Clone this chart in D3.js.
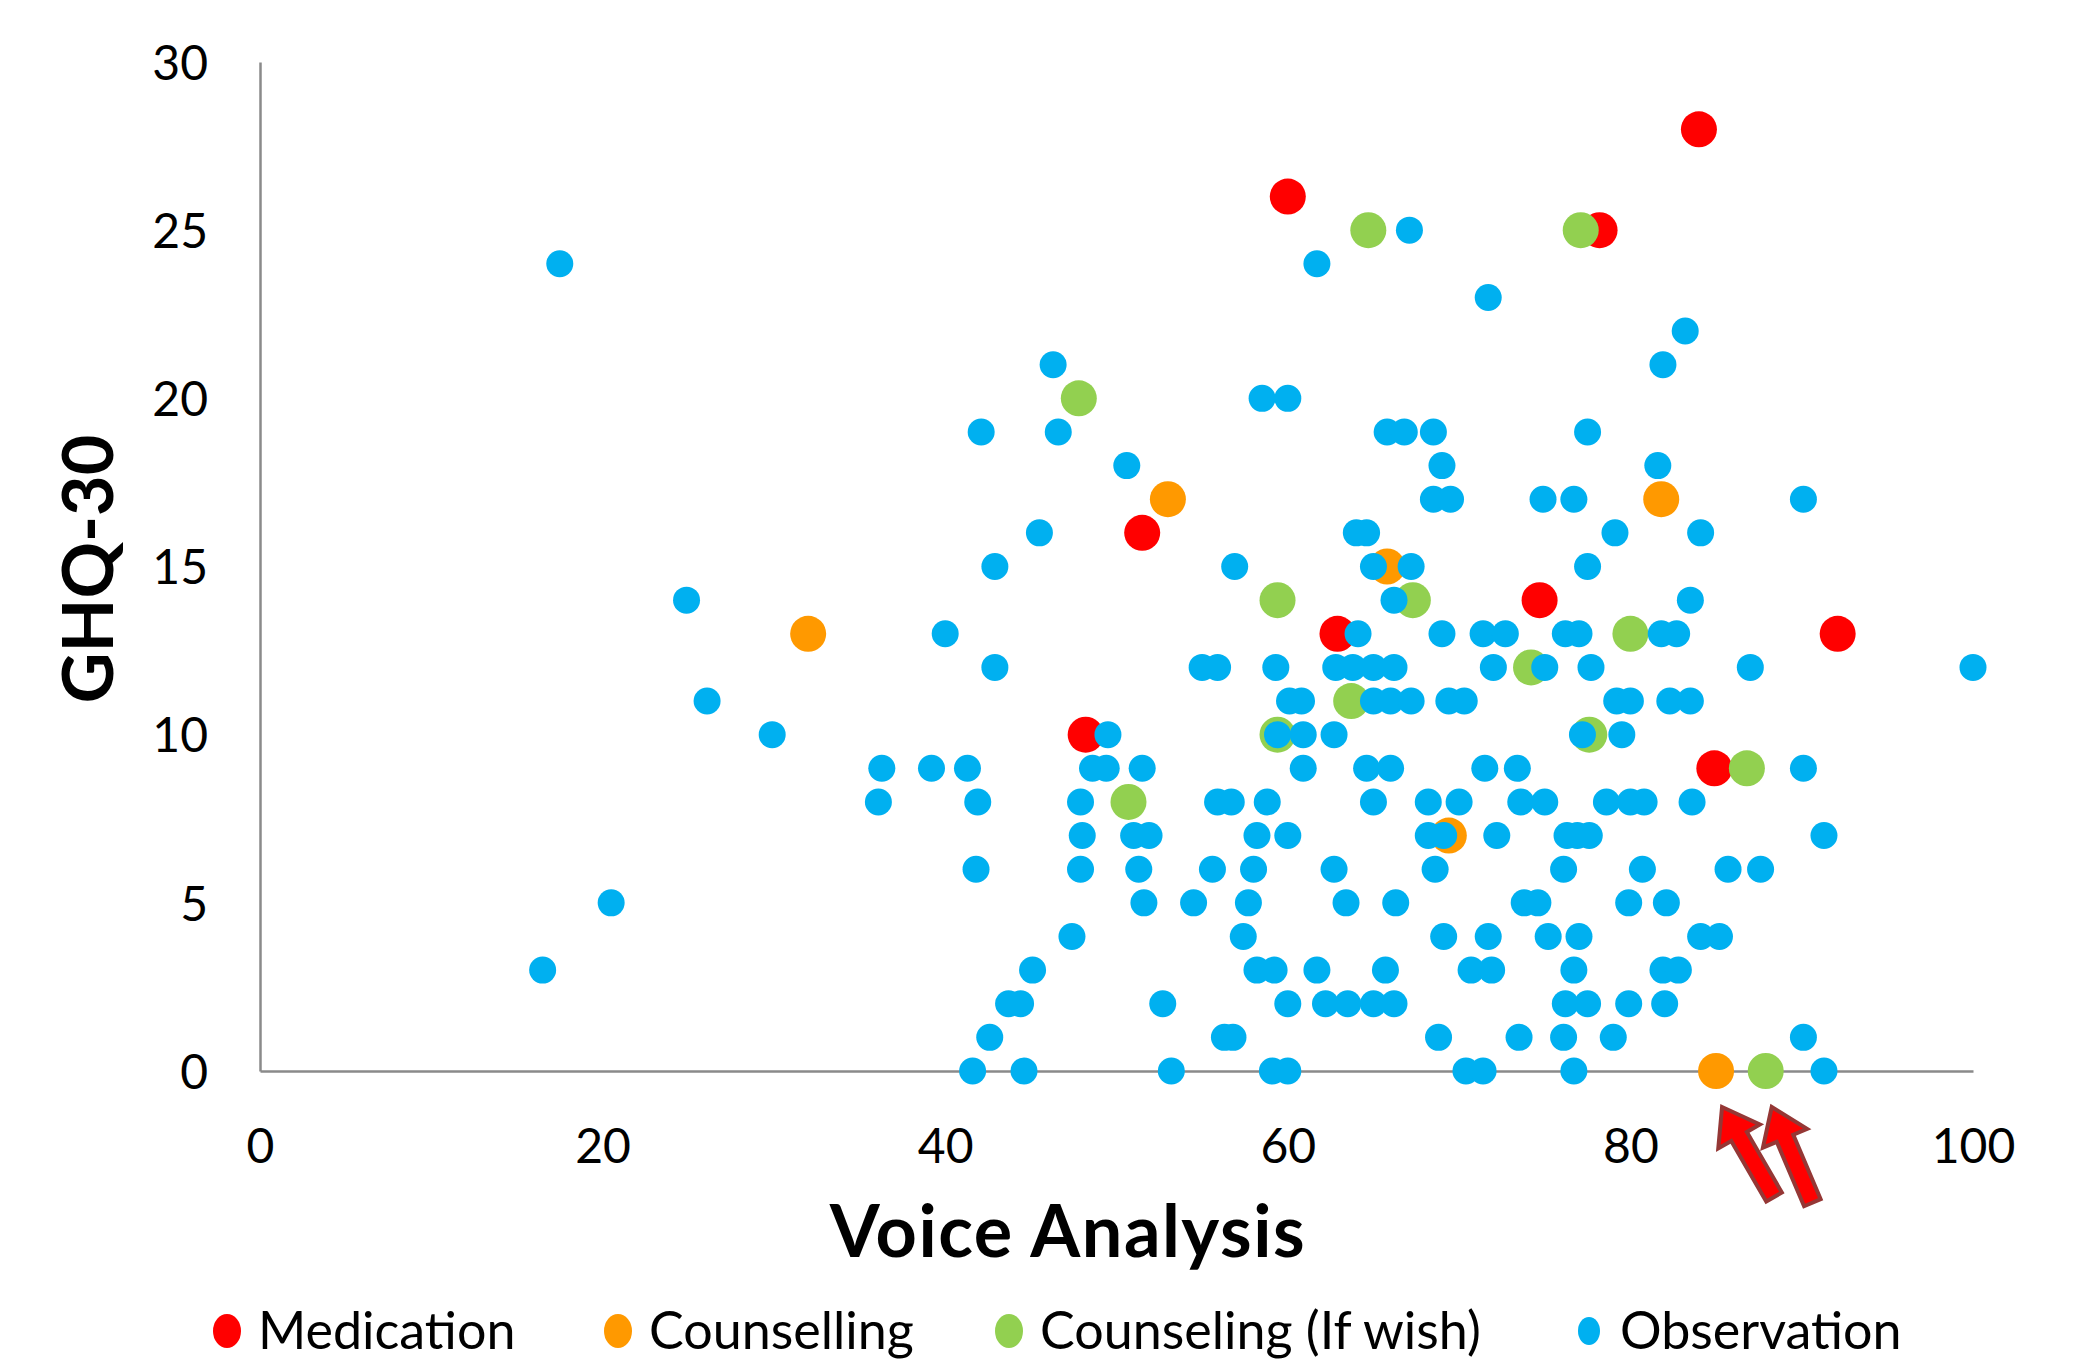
<!DOCTYPE html>
<html>
<head>
<meta charset="utf-8">
<script src="https://cdn.jsdelivr.net/npm/d3@7"></script>
<style>
  body { margin: 0; background: #fff; }
  text { font-family: Lato, "Open Sans", sans-serif; }
</style>
</head>
<body>
<div class="chart"></div>
<script>

// series names, in drawing order
const categories = ["Medication", "Counselling", "Counseling (If wish)", "Observation"];
const colors = ["#FF0000", "#FF9900", "#92D050", "#00B0F0"];

// [voice analysis, GHQ-30]
const medication = [[60.0, 26], [84.0, 28], [78.2, 25], [51.5, 16], [74.7, 14], [62.9, 13], [92.1, 13], [48.2, 10], [84.9, 9]];

const counselling = [[53.0, 17], [81.8, 17], [65.8, 15], [32.0, 13], [69.4, 7], [85.0, 0]];

const counselingIfWish = [[64.7, 25], [77.1, 25], [47.8, 20], [59.4, 14], [67.3, 14], [80.0, 13], [74.2, 12],
    [63.7, 11], [59.4, 10], [77.6, 10], [86.8, 9], [50.7, 8], [87.9, 0]];

const observation = [
    [67.1, 25], [17.5, 24], [61.7, 24], [71.7, 23], [83.2, 22], [46.3, 21], [81.9, 21],
    [58.5, 20], [60.0, 20],
    [42.1, 19], [46.6, 19], [65.8, 19], [66.8, 19], [68.5, 19], [77.5, 19],
    [50.6, 18], [69.0, 18], [81.6, 18],
    [68.5, 17], [69.5, 17], [74.9, 17], [76.7, 17], [90.1, 17],
    [45.5, 16], [64.0, 16], [64.6, 16], [79.1, 16], [84.1, 16],
    [42.9, 15], [56.9, 15], [65.0, 15], [67.2, 15], [77.5, 15],
    [24.9, 14], [66.2, 14], [83.5, 14],
    [40.0, 13], [64.1, 13], [69.0, 13], [71.4, 13], [72.7, 13], [76.2, 13], [77.0, 13], [81.8, 13], [82.7, 13],
    [42.9, 12], [55.0, 12], [55.9, 12], [59.3, 12], [62.8, 12], [63.8, 12], [65.0, 12], [66.2, 12], [72.0, 12],
    [75.0, 12], [77.7, 12], [87.0, 12], [100.0, 12],
    [26.1, 11], [60.1, 11], [60.8, 11], [65.0, 11], [66.0, 11], [67.2, 11], [69.4, 11], [70.3, 11], [79.2, 11],
    [80.0, 11], [82.3, 11], [83.5, 11],
    [29.9, 10], [49.5, 10], [59.4, 10], [60.9, 10], [62.7, 10], [77.2, 10], [79.5, 10],
    [36.3, 9], [39.2, 9], [41.3, 9], [48.6, 9], [49.4, 9], [51.5, 9], [60.9, 9], [64.6, 9], [66.0, 9], [71.5, 9],
    [73.4, 9], [90.1, 9],
    [36.1, 8], [41.9, 8], [47.9, 8], [55.9, 8], [56.7, 8], [58.8, 8], [65.0, 8], [68.2, 8], [70.0, 8], [73.6, 8],
    [75.0, 8], [78.6, 8], [80.0, 8], [80.8, 8], [83.6, 8],
    [48.0, 7], [51.0, 7], [51.9, 7], [58.2, 7], [60.0, 7], [68.2, 7], [69.1, 7], [72.2, 7], [76.3, 7], [76.9, 7],
    [77.6, 7], [91.3, 7],
    [41.8, 6], [47.9, 6], [51.3, 6], [55.6, 6], [58.0, 6], [62.7, 6], [68.6, 6], [76.1, 6], [80.7, 6], [85.7, 6], [87.6, 6],
    [20.5, 5], [51.6, 5], [54.5, 5], [57.7, 5], [63.4, 5], [66.3, 5], [73.8, 5], [74.6, 5], [79.9, 5], [82.1, 5],
    [47.4, 4], [57.4, 4], [69.1, 4], [71.7, 4], [75.2, 4], [77.0, 4], [84.1, 4], [85.2, 4],
    [16.5, 3], [45.1, 3], [58.2, 3], [59.2, 3], [61.7, 3], [65.7, 3], [70.7, 3], [71.9, 3], [76.7, 3], [81.9, 3], [82.8, 3],
    [43.7, 2], [44.4, 2], [52.7, 2], [60.0, 2], [62.2, 2], [63.5, 2], [65.0, 2], [66.2, 2], [76.2, 2], [77.5, 2],
    [79.9, 2], [82.0, 2],
    [42.6, 1], [56.3, 1], [56.8, 1], [68.8, 1], [73.5, 1], [76.1, 1], [79.0, 1], [90.1, 1],
    [41.6, 0], [44.6, 0], [53.2, 0], [59.1, 0], [60.0, 0], [70.4, 0], [71.4, 0], [76.7, 0], [91.3, 0]
];

const xTicks = [0, 20, 40, 60, 80, 100];
const yTicks = [0, 5, 10, 15, 20, 25, 30];

// points the red arrows point at (x values on the baseline)
const arrowTargets = [85.0, 87.9];

const seriesData = [medication, counselling, counselingIfWish, observation];

var svgWidth = 2074;
var svgHeight = 1360;

var svg = d3.select('div.chart')
    .append('svg')
    .attr('width', svgWidth)
    .attr('height', svgHeight);

var x = d3.scaleLinear().domain([0, 100]).range([260, 1973]);
var y = d3.scaleLinear().domain([0, 30]).range([1071, 62]);

// axes (no tick marks, only labels)
var xAxis = svg.append('g')
    .attr('transform', 'translate(0,' + y(0) + ')')
    .call(d3.axisBottom(x).tickValues(xTicks).tickSize(0).tickPadding(92).tickFormat(d3.format('d')));

var yAxis = svg.append('g')
    .attr('transform', 'translate(' + x(0) + ',0)')
    .call(d3.axisLeft(y).tickValues(yTicks).tickSize(0).tickPadding(52).tickFormat(d3.format('d')));

svg.selectAll('.domain')
    .attr('stroke', '#8a8a8a')
    .attr('stroke-width', 2.5);

xAxis.selectAll('text')
    .attr('dy', null)
    .attr('y', 92)
    .style('font-size', '48px')
    .style('font-family', 'Lato')
    .attr('fill', '#000');

yAxis.selectAll('text')
    .attr('dy', '0.36em')
    .style('font-size', '48px')
    .style('font-family', 'Lato')
    .attr('fill', '#000');

// points
var radius = [18, 18, 18, 13.5];

seriesData.forEach(function (series, i) {
    svg.append('g')
        .selectAll('circle')
        .data(series)
        .enter()
        .append('circle')
        .attr('cx', function (d) { return x(d[0]); })
        .attr('cy', function (d) { return y(d[1]); })
        .attr('r', radius[i])
        .attr('fill', colors[i]);
});

// arrows below the two points on the x axis
var arrowShape = 'M0,0 L24,34 L9,34 L9,104 L-9,104 L-9,34 L-24,34 Z';
var arrowAngles = [-30, -23];

svg.append('g')
    .selectAll('path')
    .data(arrowTargets)
    .enter()
    .append('path')
    .attr('d', arrowShape)
    .attr('transform', function (d, i) {
        return 'translate(' + (x(d) + 6) + ',' + (y(0) + 36) + ') rotate(' + arrowAngles[i] + ')';
    })
    .attr('fill', '#FF0000')
    .attr('stroke', '#953735')
    .attr('stroke-width', 4)
    .attr('stroke-linejoin', 'miter');

// axis titles
svg.append('text')
    .attr('x', 1068)
    .attr('y', 1257)
    .attr('text-anchor', 'middle')
    .style('font-size', '72px')
    .style('font-weight', 'bold')
    .style('letter-spacing', '1.5px')
    .text('Voice Analysis');

svg.append('text')
    .attr('transform', 'translate(113,569) rotate(-90)')
    .attr('text-anchor', 'middle')
    .style('font-size', '70px')
    .style('font-weight', 'bold')
    .text('GHQ-30');

// legend
var legendX = [227, 618, 1009, 1589];
var legendR = [[14, 17], [14, 17], [14, 17], [11, 14]];

var legend = svg.append('g')
    .selectAll('g')
    .data(categories)
    .enter()
    .append('g')
    .attr('transform', function (d, i) { return 'translate(' + legendX[i] + ',1331)'; });

legend.append('ellipse')
    .attr('rx', function (d, i) { return legendR[i][0]; })
    .attr('ry', function (d, i) { return legendR[i][1]; })
    .attr('fill', function (d, i) { return colors[i]; });

legend.append('text')
    .attr('x', 31)
    .attr('y', 18)
    .style('font-size', '52px')
    .attr('fill', '#000')
    .text(function (d) { return d; });

</script>
</body>
</html>
